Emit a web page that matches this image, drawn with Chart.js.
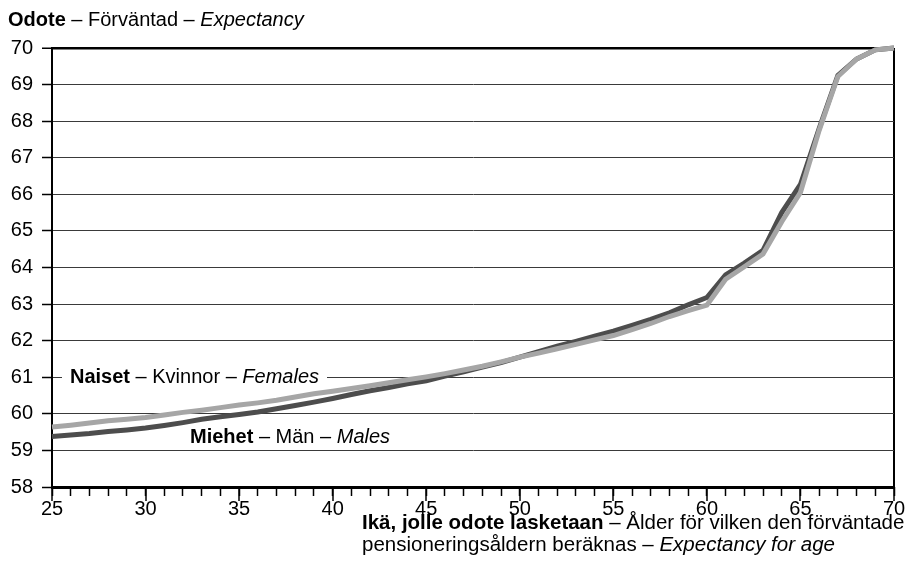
<!DOCTYPE html>
<html>
<head>
<meta charset="utf-8">
<script src="https://cdn.jsdelivr.net/npm/chart.js@4"></script>
<style>
  html, body { margin: 0; padding: 0; background: #fff; }
  #wrap { width: 908px; height: 578px; }
</style>
</head>
<body>
<div id="wrap"><canvas id="expChart" width="908" height="578"></canvas></div>
<script>
// --- DATA ---
const ages = [25, 26, 27, 28, 29, 30, 31, 32, 33, 34, 35, 36, 37, 38, 39, 40,
              41, 42, 43, 44, 45, 46, 47, 48, 49, 50, 51, 52, 53, 54, 55,
              56, 57, 58, 59, 60, 61, 62, 63, 64, 65, 66, 67, 68, 69, 70];
const males = [59.38, 59.42, 59.46, 59.52, 59.56, 59.61, 59.68, 59.76, 59.85, 59.92, 59.98,
               60.05, 60.14, 60.23, 60.32, 60.42, 60.53, 60.63, 60.72, 60.82, 60.90,
               61.03, 61.15, 61.28, 61.40, 61.55, 61.70, 61.85, 61.98, 62.12, 62.26,
               62.42, 62.58, 62.76, 62.98, 63.18, 63.80, 64.12, 64.47, 65.50, 66.27,
               67.80, 69.25, 69.70, 69.95, 70.00];
const females = [59.64, 59.69, 59.75, 59.81, 59.85, 59.90, 59.97, 60.04, 60.10, 60.17, 60.24,
                 60.30, 60.37, 60.46, 60.55, 60.62, 60.69, 60.77, 60.85, 60.93, 61.01,
                 61.10, 61.20, 61.30, 61.42, 61.55, 61.66, 61.78, 61.90, 62.02, 62.14,
                 62.30, 62.47, 62.66, 62.82, 62.97, 63.68, 64.02, 64.37, 65.25, 66.05,
                 67.75, 69.22, 69.70, 69.95, 70.00];
const yMin = 58, yMax = 70;
const xMin = 25, xMax = 70;

const FONT = "'Liberation Sans', Arial, sans-serif";
const FS = 20;

// rich text: list of [text, weight/style]
function drawRich(ctx, x, y, parts, size) {
    ctx.textBaseline = 'middle';
    ctx.textAlign = 'left';
    ctx.fillStyle = '#000';
    parts.forEach(([t, st]) => {
        ctx.font = st + ' ' + size + 'px ' + FONT;
        ctx.fillText(t, x, y);
        x += ctx.measureText(t).width;
    });
    return x;
}
function richWidth(ctx, parts, size) {
    let w = 0;
    parts.forEach(([t, st]) => {
        ctx.font = st + ' ' + size + 'px ' + FONT;
        w += ctx.measureText(t).width;
    });
    return w;
}

const textPlugin = {
    id: 'texts',
    afterDraw(chart) {
        const ctx = chart.ctx;
        ctx.save();
        drawRich(ctx, 8, 20, [['Odote', 'bold'], [' – Förväntad – ', 'normal'], ['Expectancy', 'italic']], FS);

        // series labels
        const fem = [['Naiset', 'bold'], [' – Kvinnor – ', 'normal'], ['Females', 'italic']];
        const fy = chart.scales.y.getPixelForValue(61);
        const fw = richWidth(ctx, fem, FS);
        ctx.fillStyle = '#fff';
        ctx.fillRect(62, fy - 11, fw + 16, 22);
        drawRich(ctx, 70, fy, fem, FS);
        drawRich(ctx, 190, 437, [['Miehet', 'bold'], [' – Män – ', 'normal'], ['Males', 'italic']], FS);

        // x axis title
        drawRich(ctx, 362, 523, [['Ikä, jolle odote lasketaan', 'bold'], [' – Ålder för vilken den förväntade', 'normal']], 20.5);
        drawRich(ctx, 362, 545, [['pensioneringsåldern beräknas – ', 'normal'], ['Expectancy for age', 'italic']], 20.5);
        ctx.restore();
    }
};

const ctx = document.getElementById('expChart').getContext('2d');
new Chart(ctx, {
    type: 'line',
    data: {
        datasets: [{
            label: 'Naiset',
            data: ages.map((a, i) => ({ x: a, y: females[i] })),
            borderColor: '#a6a6a6',
            borderWidth: 5,
            pointRadius: 0,
            tension: 0,
            clip: false
        }, {
            label: 'Miehet',
            data: ages.map((a, i) => ({ x: a, y: males[i] })),
            borderColor: '#4d4d4d',
            borderWidth: 5,
            pointRadius: 0,
            tension: 0,
            clip: false
        }]
    },
    options: {
        responsive: false,
        animation: false,
        layout: { padding: { left: 0, top: 48, right: 14, bottom: 0 } },
        plugins: { legend: { display: false }, tooltip: { enabled: false } },
        scales: {
            xMinor: {
                type: 'linear', position: 'bottom', min: xMin, max: xMax,
                ticks: { stepSize: 1, display: false },
                grid: { drawOnChartArea: false, tickLength: 9, tickColor: '#000', tickWidth: 1.5 },
                border: { display: false },
                afterFit: s => { s.height = 0; }
            },
            x: {
                type: 'linear', position: 'bottom', min: xMin, max: xMax,
                ticks: { stepSize: 5, color: '#000', padding: -2, maxRotation: 0,
                         font: { family: FONT, size: FS, lineHeight: 1 } },
                grid: {
                    tickLength: 14, tickColor: '#000', tickWidth: 1.5,
                    color: c => (c.tick && c.tick.value === xMax) ? '#000' : 'rgba(0,0,0,0)',
                    lineWidth: 2
                },
                border: { color: '#000', width: 3 },
                afterFit: s => { s.height = 91; }
            },
            y: {
                min: yMin, max: yMax,
                ticks: { stepSize: 1, color: '#000', padding: 9,
                         font: { family: FONT, size: FS, lineHeight: 1 } },
                grid: {
                    tickLength: 10, tickColor: '#000', tickWidth: 1.5,
                    color: c => (c.tick && c.tick.value === yMax) ? '#000' : '#3a3a3a',
                    lineWidth: c => (c.tick && c.tick.value === yMax) ? 2.5 : 1
                },
                border: { color: '#000', width: 2 },
                afterFit: s => { s.width = 52; }
            }
        }
    },
    plugins: [textPlugin]
});
</script>
</body>
</html>
